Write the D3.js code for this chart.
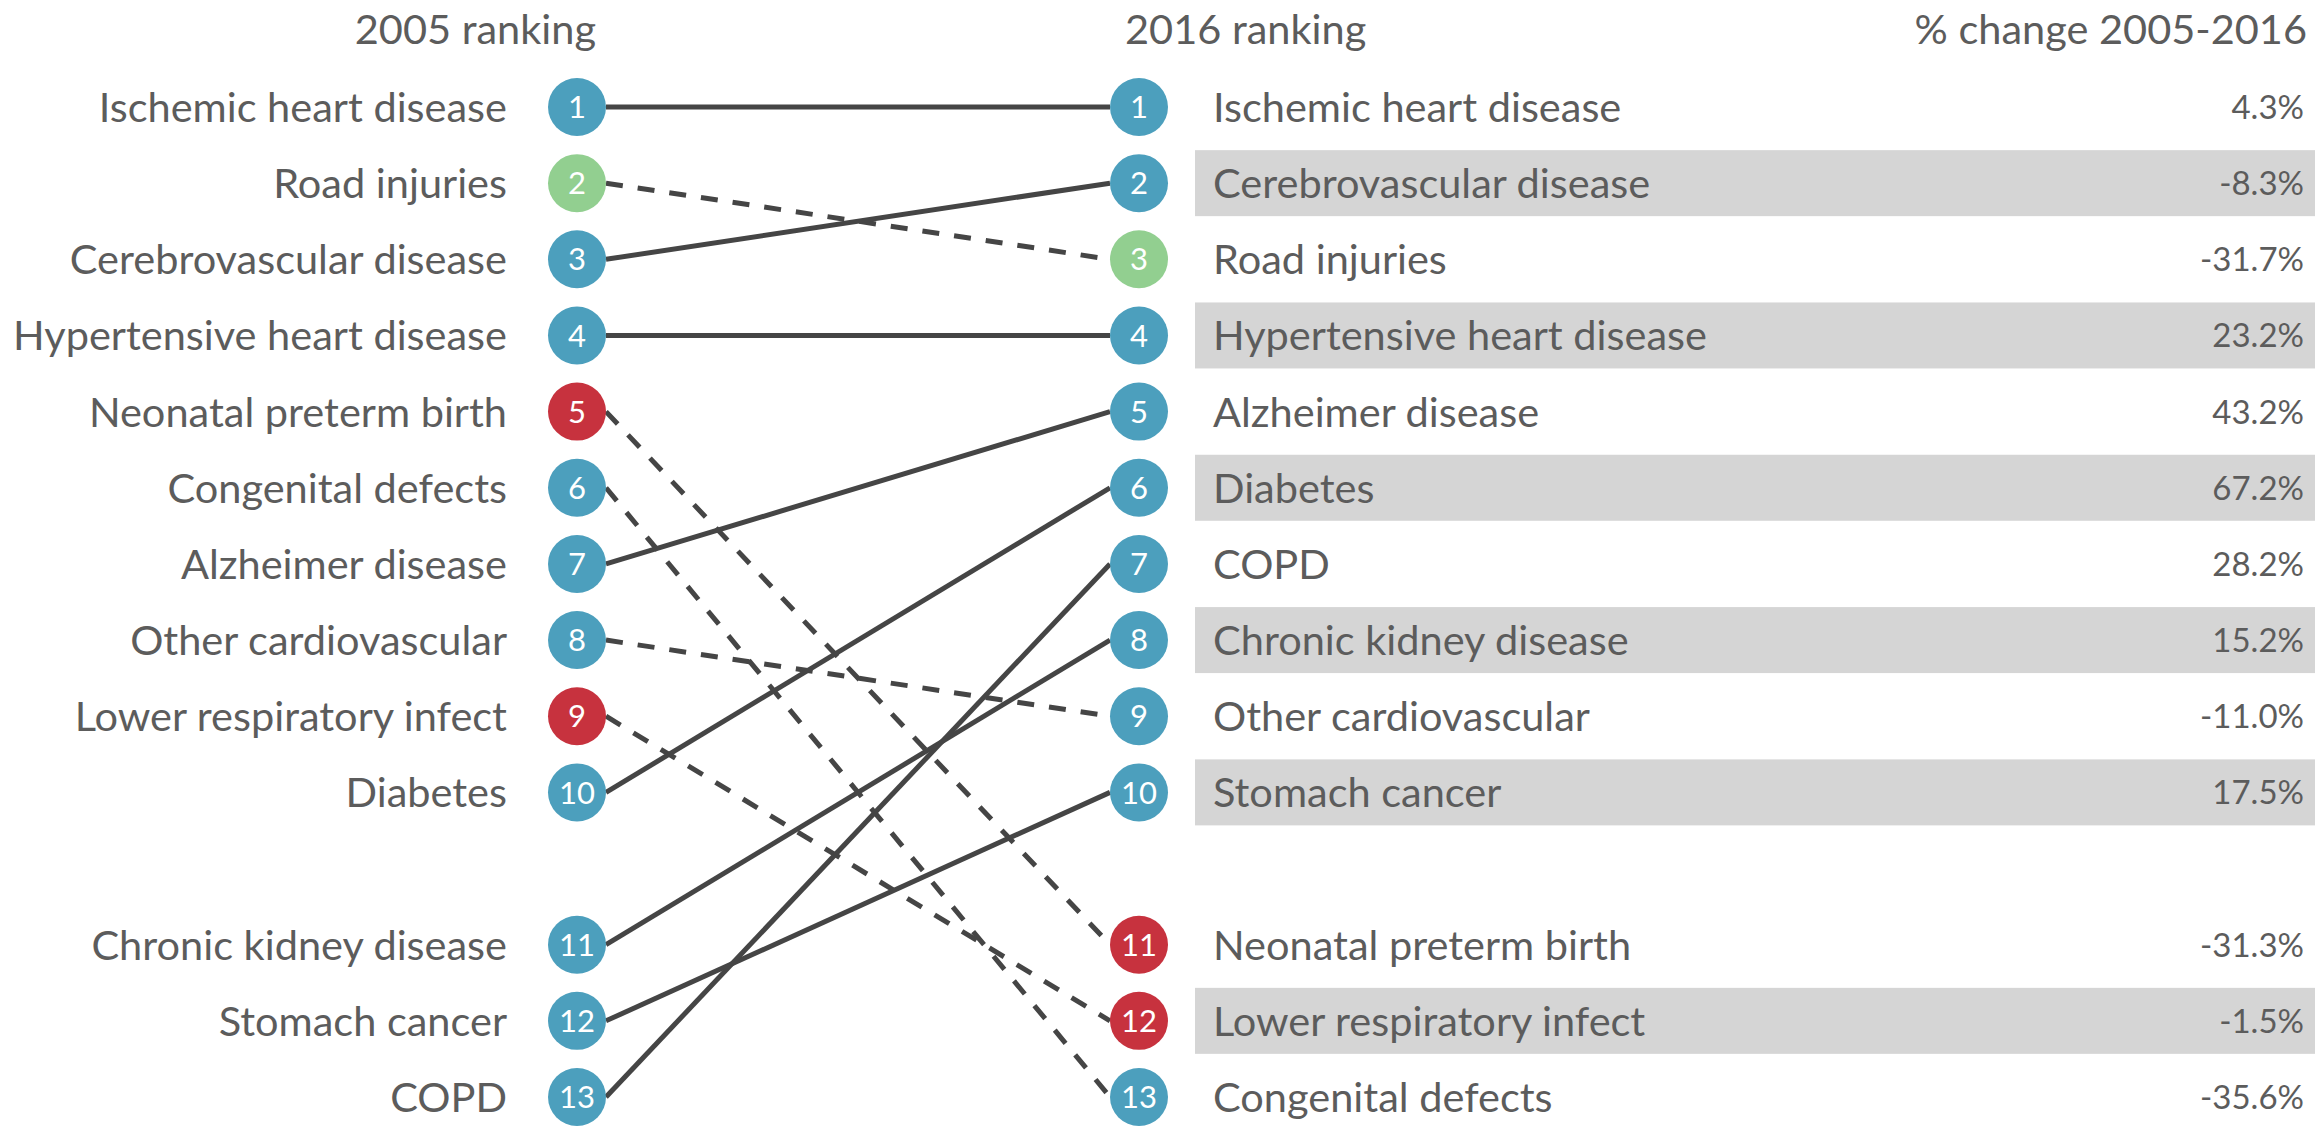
<!DOCTYPE html>
<html>
<head>
<meta charset="utf-8">
<script src="https://cdn.jsdelivr.net/npm/d3@7"></script>
<style>
  body { margin: 0; background: #fff; }
  svg text { font-family: Lato, 'Open Sans', sans-serif; }
</style>
</head>
<body>
<svg id="chart" width="2319" height="1131"></svg>
<script>
// ranking order, 2005
const causes2005 = [
  'Ischemic heart disease', 'Road injuries', 'Cerebrovascular disease',
  'Hypertensive heart disease', 'Neonatal preterm birth', 'Congenital defects',
  'Alzheimer disease', 'Other cardiovascular', 'Lower respiratory infect',
  'Diabetes', 'Chronic kidney disease', 'Stomach cancer', 'COPD'
]
// cause group, same order as causes2005
const groups2005 = [
  'ncd', 'injury', 'ncd', 'ncd', 'comm', 'ncd', 'ncd', 'ncd', 'comm',
  'ncd', 'ncd', 'ncd', 'ncd'
]
// ranking order, 2016
const causes2016 = [
  'Ischemic heart disease', 'Cerebrovascular disease', 'Road injuries',
  'Hypertensive heart disease', 'Alzheimer disease', 'Diabetes', 'COPD',
  'Chronic kidney disease', 'Other cardiovascular', 'Stomach cancer',
  'Neonatal preterm birth', 'Lower respiratory infect', 'Congenital defects'
]
// % change 2005-2016, same order as causes2016
const change2016 = [4.3, -8.3, -31.7, 23.2, 43.2, 67.2, 28.2, 15.2, -11.0, 17.5, -31.3, -1.5, -35.6]
const headers = ['2005 ranking', '2016 ranking', '% change 2005-2016']

const width = 2319
const leftX = 577
const rightX = 1139
const r = 29
const rowGap = 10 // ranks after this one sit one row lower
const labelSize = '41.5px'
const labelColor = '#5c5c5c'

const svg = d3.select('#chart')

const slot = (rank) => rank <= rowGap ? rank - 1 : rank
const y = d3.scaleLinear().domain([0, 13]).range([107, 1097])
const color = d3.scaleOrdinal()
  .domain(['ncd', 'comm', 'injury'])
  .range(['#4c9fbd', '#c7323e', '#92cf90'])

const groupOf = {}
causes2005.forEach((c, i) => { groupOf[c] = groups2005[i] })

const links = causes2005.map((c, i) => ({
  cause: c,
  from: i + 1,
  to: causes2016.indexOf(c) + 1
}))

// zebra bands behind the 2016 list
svg.append('g')
  .selectAll('rect')
  .data(causes2016.map((c, i) => i + 1).filter(k => k % 2 === 0))
  .enter()
  .append('rect')
    .attr('x', 1195)
    .attr('width', width - 4 - 1195)
    .attr('y', d => y(slot(d)) - 33)
    .attr('height', 66)
    .style('fill', '#d5d5d5')

// headers
svg.append('text')
  .attr('x', 596).attr('y', 44)
  .style('text-anchor', 'end')
  .style('font-size', labelSize).style('fill', labelColor)
  .text(headers[0])
svg.append('text')
  .attr('x', 1125).attr('y', 44)
  .style('font-size', labelSize).style('fill', labelColor)
  .text(headers[1])
svg.append('text')
  .attr('x', 2307).attr('y', 44)
  .style('text-anchor', 'end')
  .style('font-size', labelSize).style('fill', labelColor)
  .text(headers[2])

// connecting lines, dashed where the rank fell
svg.append('g')
  .selectAll('line')
  .data(links)
  .enter()
  .append('line')
    .attr('x1', leftX + r)
    .attr('y1', d => y(slot(d.from)))
    .attr('x2', rightX - r)
    .attr('y2', d => y(slot(d.to)))
    .style('stroke', '#454545')
    .style('stroke-width', 5)
    .style('stroke-dasharray', d => d.to > d.from ? '17,15' : null)

// 2005 column
const left = svg.append('g')
  .selectAll('g')
  .data(causes2005)
  .enter()
  .append('g')
    .attr('transform', (d, i) => `translate(${leftX},${y(slot(i + 1))})`)

left.append('circle')
  .attr('r', r)
  .style('fill', d => color(groupOf[d]))
left.append('text')
  .attr('dy', '0.36em')
  .style('text-anchor', 'middle')
  .style('font-size', '31px').style('fill', '#fff')
  .text((d, i) => i + 1)
left.append('text')
  .attr('x', -70)
  .attr('dy', '0.36em')
  .style('text-anchor', 'end')
  .style('font-size', labelSize).style('fill', labelColor)
  .text(d => d)

// 2016 column
const right = svg.append('g')
  .selectAll('g')
  .data(causes2016)
  .enter()
  .append('g')
    .attr('transform', (d, i) => `translate(${rightX},${y(slot(i + 1))})`)

right.append('circle')
  .attr('r', r)
  .style('fill', d => color(groupOf[d]))
right.append('text')
  .attr('dy', '0.36em')
  .style('text-anchor', 'middle')
  .style('font-size', '31px').style('fill', '#fff')
  .text((d, i) => i + 1)
right.append('text')
  .attr('x', 74)
  .attr('dy', '0.36em')
  .style('font-size', labelSize).style('fill', labelColor)
  .text(d => d)
right.append('text')
  .attr('x', 2304 - rightX)
  .attr('dy', '0.36em')
  .style('text-anchor', 'end')
  .style('font-size', '33px').style('fill', labelColor)
  .text((d, i) => `${change2016[i].toFixed(1)}%`)
</script>
</body>
</html>
